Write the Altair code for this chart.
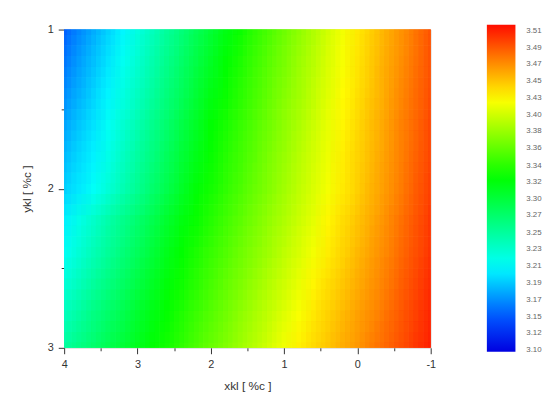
import altair as alt
import pandas as pd

# grid columns (x) and rows (y)
X_VALUES = [4.0, 3.8, 3.6, 3.4, 3.2, 3.0, 2.8, 2.6, 2.4, 2.2, 2.0, 1.8, 1.6,
            1.4, 1.2, 1.0, 0.8, 0.6, 0.4, 0.2, 0.0, -0.2, -0.4, -0.6, -0.8, -1.0]
Y_VALUES = [1.0, 1.2, 1.4, 1.6, 1.8, 2.0, 2.2, 2.4, 2.6, 2.8, 3.0]

Z_Y10 = [3.150, 3.165, 3.179, 3.193, 3.207, 3.222, 3.237, 3.253, 3.268, 3.284, 3.299, 3.314, 3.328,
         3.342, 3.354, 3.367, 3.380, 3.393, 3.406, 3.419, 3.431, 3.443, 3.455, 3.467, 3.479, 3.491]
Z_Y12 = [3.159, 3.173, 3.186, 3.200, 3.214, 3.229, 3.244, 3.260, 3.275, 3.291, 3.306, 3.321, 3.334,
         3.347, 3.359, 3.371, 3.384, 3.396, 3.409, 3.421, 3.433, 3.445, 3.457, 3.468, 3.480, 3.492]
Z_Y14 = [3.167, 3.180, 3.193, 3.206, 3.221, 3.236, 3.251, 3.267, 3.282, 3.298, 3.313, 3.327, 3.339,
         3.351, 3.363, 3.375, 3.387, 3.399, 3.411, 3.424, 3.435, 3.447, 3.459, 3.471, 3.482, 3.494]
Z_Y16 = [3.176, 3.188, 3.199, 3.212, 3.228, 3.243, 3.259, 3.274, 3.290, 3.305, 3.321, 3.333, 3.345,
         3.356, 3.368, 3.380, 3.391, 3.403, 3.415, 3.426, 3.438, 3.450, 3.461, 3.473, 3.484, 3.496]
Z_Y18 = [3.184, 3.195, 3.205, 3.219, 3.235, 3.250, 3.266, 3.281, 3.297, 3.312, 3.326, 3.338, 3.349,
         3.360, 3.372, 3.383, 3.395, 3.406, 3.417, 3.429, 3.440, 3.451, 3.463, 3.474, 3.486, 3.497]
Z_Y20 = [3.192, 3.201, 3.211, 3.226, 3.242, 3.257, 3.273, 3.288, 3.304, 3.319, 3.331, 3.342, 3.353,
         3.364, 3.375, 3.387, 3.398, 3.409, 3.420, 3.431, 3.442, 3.454, 3.465, 3.476, 3.488, 3.499]
Z_Y22 = [3.205, 3.219, 3.232, 3.246, 3.260, 3.274, 3.287, 3.301, 3.315, 3.327, 3.338, 3.349, 3.360,
         3.371, 3.382, 3.392, 3.403, 3.414, 3.425, 3.436, 3.447, 3.458, 3.469, 3.480, 3.491, 3.502]
Z_Y24 = [3.213, 3.227, 3.241, 3.254, 3.268, 3.282, 3.296, 3.310, 3.324, 3.334, 3.345, 3.355, 3.366,
         3.376, 3.387, 3.398, 3.408, 3.419, 3.430, 3.440, 3.451, 3.462, 3.472, 3.483, 3.493, 3.504]
Z_Y26 = [3.226, 3.239, 3.252, 3.265, 3.278, 3.292, 3.305, 3.318, 3.329, 3.340, 3.351, 3.362, 3.372,
         3.383, 3.394, 3.404, 3.415, 3.426, 3.436, 3.446, 3.456, 3.466, 3.476, 3.487, 3.497, 3.507]
Z_Y28 = [3.239, 3.251, 3.264, 3.276, 3.288, 3.301, 3.313, 3.325, 3.336, 3.347, 3.357, 3.368, 3.379,
         3.390, 3.400, 3.411, 3.422, 3.432, 3.441, 3.451, 3.461, 3.470, 3.480, 3.490, 3.499, 3.509]
Z_Y30 = [3.251, 3.263, 3.274, 3.286, 3.297, 3.309, 3.320, 3.331, 3.342, 3.353, 3.364, 3.374, 3.385,
         3.396, 3.407, 3.418, 3.428, 3.437, 3.446, 3.456, 3.465, 3.475, 3.484, 3.493, 3.503, 3.512]
Z_ROWS = [Z_Y10, Z_Y12, Z_Y14, Z_Y16, Z_Y18, Z_Y20, Z_Y22, Z_Y24, Z_Y26, Z_Y28, Z_Y30]

X_TICKS = [4, 3.5, 3, 2.5, 2, 1.5, 1, 0.5, 0, -0.5, -1]
Y_TICKS = [1, 1.5, 2, 2.5, 3]
LEGEND_TICKS = [3.512, 3.490, 3.469, 3.447, 3.426, 3.404, 3.383, 3.361, 3.339, 3.318,
                3.296, 3.275, 3.253, 3.232, 3.210, 3.188, 3.167, 3.145, 3.124, 3.102]
COLOR_DOMAIN = [3.10, 3.145, 3.209, 3.323, 3.423, 3.465, 3.52]
COLOR_RANGE = ["#0000e0", "#0055ff", "#00ffff", "#00ff00", "#ffff00", "#ff9900", "#ff0c00"]

records = []
for yv, row in zip(Y_VALUES, Z_ROWS):
    for xv, zv in zip(X_VALUES, row):
        records.append({"x": xv, "y": yv, "z": zv})
df = pd.DataFrame(records)

FONT = "Liberation Sans"
INK = "#333333"
HALF = 0.1          # half of a grid cell
tick_size = {"condition": {"test": "datum.value % 1 != 0", "value": 3}, "value": 6}
label_expr = "datum.value % 1 == 0 ? toString(datum.value) : ''"

color_scale = alt.Scale(domain=COLOR_DOMAIN, range=COLOR_RANGE, interpolate="rgb")
x_scale = alt.Scale(domain=[-1, 4], reverse=True, nice=False, zero=False)
y_scale = alt.Scale(domain=[1, 3], reverse=True, nice=False, zero=False)

x_axis = alt.Axis(
    values=X_TICKS, labelExpr=label_expr, tickSize=tick_size,
    grid=False, domain=False, tickColor=INK, labelColor=INK,
    labelFont=FONT, labelFontSize=11, labelPadding=5, labelFlush=False,
    titleFont=FONT, titleFontSize=12, titleFontWeight="normal",
    titleColor=INK, titlePadding=11,
)
y_axis = alt.Axis(
    values=Y_TICKS, labelExpr=label_expr, tickSize=tick_size,
    grid=False, domain=False, tickColor=INK, labelColor=INK,
    labelFont=FONT, labelFontSize=11, labelPadding=5, labelFlush=False,
    titleFont=FONT, titleFontSize=12, titleFontWeight="normal",
    titleColor=INK, titlePadding=14,
)
legend = alt.Legend(
    title=None, type="gradient", orient="none", legendX=429, legendY=-5,
    direction="vertical", gradientLength=332, gradientThickness=29,
    gradientStrokeWidth=0, values=LEGEND_TICKS, format=".2f",
    labelFont=FONT, labelFontSize=8, labelColor="#666666",
    labelOffset=11, labelOverlap=False,
)

# The cells are drawn several times, shifted by a third of a cell, with
# opacities 1, 1/2, 1/3 ... so that the layers average to a smooth field.
SHIFTS = [(0.0, 0.0), (-1, 0), (1, 0), (0, -1), (0, 1), (-1, -1), (1, 1), (-1, 1), (1, -1)]
layers = []
for k, (sx, sy) in enumerate(SHIFTS, start=1):
    dx = sx * 2 * HALF / 3
    dy = sy * 2 * HALF / 3
    layer = (
        alt.Chart(df)
        .transform_calculate(
            x0=f"datum.x + {HALF + dx}", x1=f"datum.x - {HALF - dx}",
            y0=f"datum.y - {HALF - dy}", y1=f"datum.y + {HALF + dy}",
        )
        .mark_rect(clip=True, opacity=1.0 / k)
        .encode(
            x=alt.X("x0:Q", title="xkl [ %c ]", scale=x_scale, axis=x_axis),
            x2="x1:Q",
            y=alt.Y("y0:Q", title="ykl [ %c ]", scale=y_scale, axis=y_axis),
            y2="y1:Q",
            color=alt.Color("z:Q", scale=color_scale, legend=legend),
        )
    )
    layers.append(layer)

chart = (
    alt.layer(*layers)
    .properties(
        width=372, height=323,
        autosize=alt.AutoSizeParams(type="none"),
        padding={"left": 57, "top": 19, "right": 116, "bottom": 46},
    )
    .configure_view(stroke=INK, strokeWidth=1)
    .configure(background="white")
)

chart.save("out.html", embed_options={"renderer": "svg", "actions": False})
